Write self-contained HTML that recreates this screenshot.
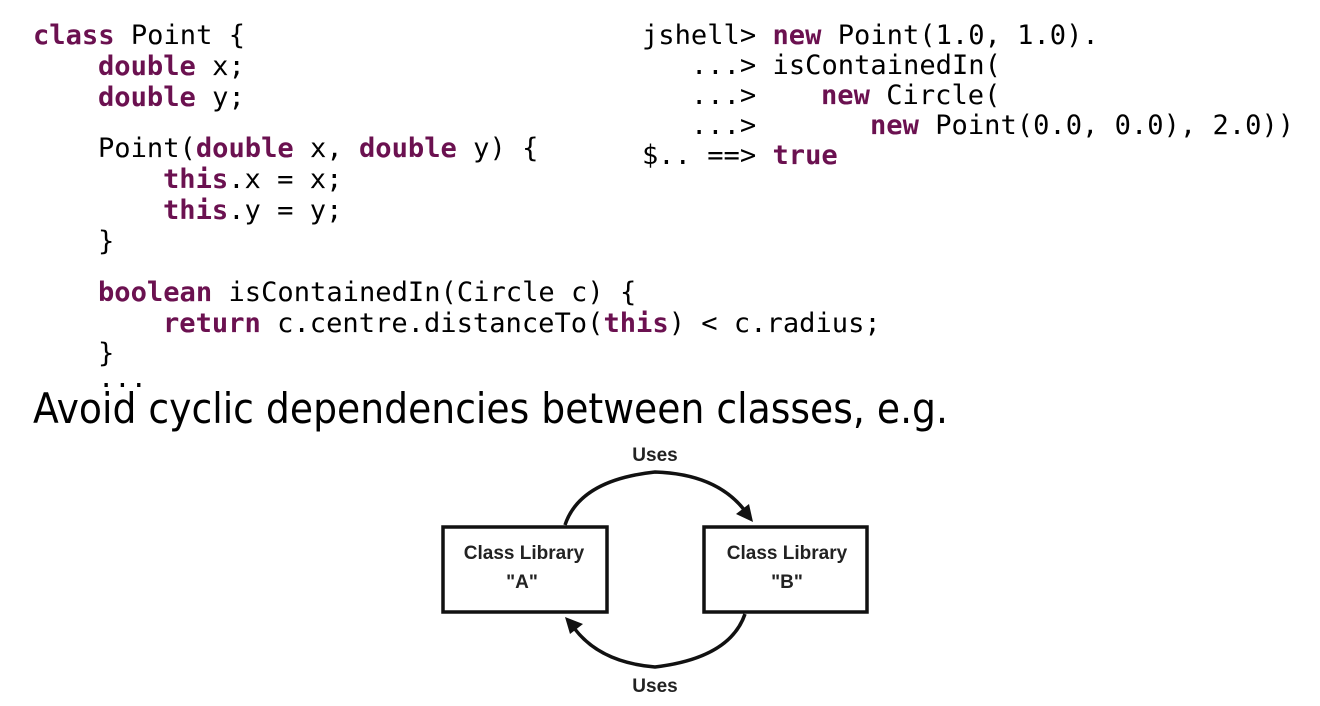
<!DOCTYPE html>
<html><head><meta charset="utf-8"><style>
html,body{margin:0;padding:0;background:#fff;width:1320px;height:706px;overflow:hidden}
svg{display:block}
.c{font-family:"DejaVu Sans Mono","Liberation Mono",monospace;font-size:27.1px;fill:#000}
.k{fill:#6b1150;font-weight:bold}
.d{font-family:"Liberation Sans",sans-serif;font-size:19px;font-weight:bold;fill:#222;text-anchor:middle}
</style></head><body>
<svg width="1320" height="706" viewBox="0 0 1320 706">
<g class="c">
<text x="33" y="44"><tspan class="k">class</tspan> Point {</text>
<text x="98" y="75"><tspan class="k">double</tspan> x;</text>
<text x="98" y="106"><tspan class="k">double</tspan> y;</text>
<text x="98" y="157">Point(<tspan class="k">double</tspan> x, <tspan class="k">double</tspan> y) {</text>
<text x="163" y="188"><tspan class="k">this</tspan>.x = x;</text>
<text x="163" y="219"><tspan class="k">this</tspan>.y = y;</text>
<text x="98" y="250">}</text>
<text x="98" y="301"><tspan class="k">boolean</tspan> isContainedIn(Circle c) {</text>
<text x="163" y="332"><tspan class="k">return</tspan> c.centre.distanceTo(<tspan class="k">this</tspan>) &lt; c.radius;</text>
<text x="98" y="362">}</text>
<text x="98" y="387">...</text>
<text x="642" y="44">jshell&gt; <tspan class="k">new</tspan> Point(1.0, 1.0).</text>
<text x="691" y="74">...&gt; isContainedIn(</text>
<text x="691" y="104">...&gt;<tspan x="821" class="k">new</tspan> Circle(</text>
<text x="691" y="134">...&gt;<tspan x="870" class="k">new</tspan> Point(0.0, 0.0), 2.0))</text>
<text x="642" y="164">$.. ==&gt; <tspan class="k">true</tspan></text>
</g>
<rect x="0" y="373" width="1320" height="9" fill="#fff"/>
<text x="33" y="423" font-family="'DejaVu Sans','Liberation Sans',sans-serif" font-size="42" textLength="915" lengthAdjust="spacingAndGlyphs" fill="#000">Avoid cyclic dependencies between classes, e.g.</text>
<g fill="none" stroke="#111" stroke-width="3.5">
<rect x="443" y="527" width="164" height="85"/>
<rect x="704" y="527" width="163" height="85"/>
<path d="M565 525 Q580 480 655 472 Q720 474 748 515"/>
<path d="M745 614 Q730 658 655 667 Q595 662 570 622"/>
</g>
<path d="M753 522 L736 514 L749 504 Z" fill="#111"/>
<path d="M565 617 L583 624 L570 634 Z" fill="#111"/>
<text class="d" x="655" y="461">Uses</text>
<text class="d" x="655" y="692">Uses</text>
<text class="d" x="524" y="559">Class Library</text>
<text class="d" x="522" y="588" font-size="16">"A"</text>
<text class="d" x="787" y="559">Class Library</text>
<text class="d" x="787" y="588" font-size="16">"B"</text>
</svg>
</body></html>
